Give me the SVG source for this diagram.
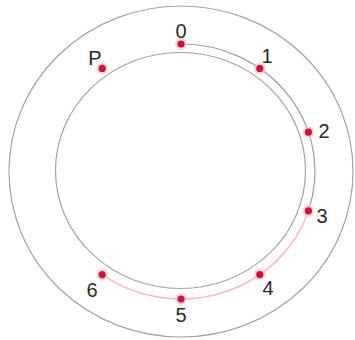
<svg xmlns="http://www.w3.org/2000/svg" width="355" height="340" viewBox="0 0 355 340">
<style>
.ring{fill:none;stroke:#a3a3a3;stroke-width:1.2}
.grey{fill:none;stroke:#9c9c9c;stroke-width:1.2}
.pink{fill:none;stroke:#f5b8c5;stroke-width:1.5}
.halo{fill:#f7c3cf;opacity:0.7}
.dot{fill:#c3173f}
.lbl{font-family:"Liberation Sans",Arial,sans-serif;font-size:20px;fill:#2a2a2a;text-anchor:middle}
</style>
<rect width="355" height="340" fill="#fff"/>
<g id="rings">
<ellipse class="ring" cx="181" cy="171.5" rx="172" ry="165.5"/>
<ellipse class="ring" cx="180.5" cy="170.5" rx="125" ry="118"/>
</g>
<g id="connectors">
<path class="grey" d="M181 44 A134 127.5 0 0 1 308.4 210.9"/>
<path class="pink" d="M308.4 210.9 A134 127.5 0 0 1 102.2 274.6"/>
</g>
<g id="n0"><circle class="halo" cx="181" cy="44" r="6"/><circle class="dot" cx="181" cy="44" r="3.6"/><text class="lbl" x="181" y="38">0</text></g>
<g id="n1"><circle class="halo" cx="259.8" cy="68.4" r="6"/><circle class="dot" cx="259.8" cy="68.4" r="3.6"/><text class="lbl" x="267" y="63">1</text></g>
<g id="n2"><circle class="halo" cx="308.4" cy="132.1" r="6"/><circle class="dot" cx="308.4" cy="132.1" r="3.6"/><text class="lbl" x="324" y="138">2</text></g>
<g id="n3"><circle class="halo" cx="308.4" cy="210.9" r="6"/><circle class="dot" cx="308.4" cy="210.9" r="3.6"/><text class="lbl" x="322" y="223">3</text></g>
<g id="n4"><circle class="halo" cx="259.8" cy="274.6" r="6"/><circle class="dot" cx="259.8" cy="274.6" r="3.6"/><text class="lbl" x="268" y="295">4</text></g>
<g id="n5"><circle class="halo" cx="181" cy="299" r="6"/><circle class="dot" cx="181" cy="299" r="3.6"/><text class="lbl" x="181" y="322">5</text></g>
<g id="n6"><circle class="halo" cx="102.2" cy="274.6" r="6"/><circle class="dot" cx="102.2" cy="274.6" r="3.6"/><text class="lbl" x="92" y="297">6</text></g>
<g id="nP"><circle class="halo" cx="102.2" cy="68.4" r="6"/><circle class="dot" cx="102.2" cy="68.4" r="3.6"/><text class="lbl" x="95" y="65">P</text></g>
</svg>
